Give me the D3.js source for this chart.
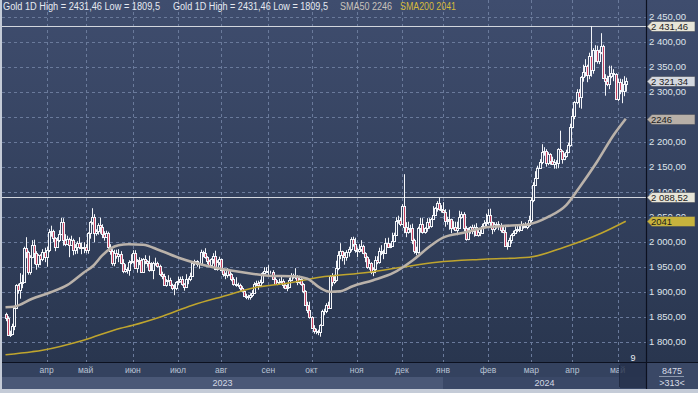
<!DOCTYPE html>
<html>
<head>
<meta charset="utf-8">
<script src="https://cdn.jsdelivr.net/npm/d3@7"></script>
<style>
  body { margin: 0; background: #c4cbd7; }
  svg { display: block; font-family: "Liberation Sans", Arial, sans-serif; }
</style>
</head>
<body>
<svg id="chart" width="698" height="393"></svg>
<script>
// barras diárias do ouro (mar/2023 .. mai/2024), índice = dia de pregão
var opens = [
  1856,1847,1814,1815,1831,1868,1913,1904,1918,1919,1988,1979,1940,1969,1993,1978,1956,1973,1965,1980,
  1969,1984,2020,2021,2008,1990,2004,2015,2040,2004,1995,2005,1994,2004,1983,1989,1997,1990,1988,
  1990,1983,2017,2039,2050,2017,2021,2034,2030,2015,2010,2017,1989,1982,1957,1978,1971,1975,1957,1941,1946,1943,1959,
  1962,1978,1948,1961,1963,1940,1965,1961,1957,1943,1943,1957,1958,1951,1936,1932,1913,1921,1923,1914,1907,1908,
  1919,1921,1925,1915,1910,1925,1925,1932,1957,1961,1955,1955,1979,1977,1969,1962,1954,1965,1972,1945,1959,
  1965,1944,1935,1933,1943,1936,1926,1915,1913,1914,1907,1901,1892,1889,1889,1894,1898,1915,1917,1914,1920,1937,1942,
  1940,1940,1939,1926,1916,1919,1919,1922,1913,1908,1910,1924,1934,1931,1930,1920,1925,1915,1901,1874,1864,
  1849,1828,1822,1821,1820,1833,1861,1861,1874,1868,1932,1920,1923,1947,1974,1981,1973,1970,1979,1985,2006,1996,
  1983,1982,1985,1992,1978,1969,1950,1958,1940,1946,1963,1959,1981,1980,1978,1998,1990,1992,2002,2014,2041,2044,
  2036,2072,2029,2019,2025,2028,2004,1981,1980,2027,2036,2019,2027,2040,2031,2045,2053,2067,2077,2065,
  2063,2059,2041,2043,2045,2028,2030,2024,2028,2049,2055,2028,2006,2023,2029,2022,2029,2013,2020,2018,2032,2037,
  2039,2054,2039,2025,2035,2035,2033,2024,2020,1992,1992,2004,2013,2017,2024,2025,2024,2035,2031,2030,2034,
  2044,2083,2114,2128,2148,2160,2179,2182,2158,2175,2162,2155,2160,2157,2186,2181,2166,2172,2179,2194,
  2230,2251,2280,2300,2290,2329,2339,2352,2333,2372,2344,2383,2383,2361,2379,2392,2327,2322,2316,2332,2337,2335,
  2286,2320,2303,2301,2315
];
var highs = [
  1858,1851,1822,1836,1871,1915,1916,1937,1934,1990,2009,1982,1973,2003,2004,1981,1975,1975,1985,1988,
  1990,2025,2032,2024,2009,2009,2023,2048,2047,2015,2012,2008,2012,2006,1995,2001,2009,1998,1999,
  1995,2019,2041,2067,2055,2025,2037,2048,2035,2021,2022,2020,1995,1985,1984,1984,1985,1981,1965,1955,1949,1963,1975,
  1983,1983,1965,1969,1967,1967,1973,1963,1972,1959,1960,1968,1960,1954,1940,1936,1925,1933,1928,1916,1915,1921,
  1930,1930,1931,1917,1935,1928,1938,1960,1964,1963,1958,1984,1982,1987,1971,1964,1967,1977,1982,1963,1970,
  1966,1947,1938,1947,1945,1937,1929,1929,1918,1916,1911,1904,1896,1894,1897,1903,1919,1922,1922,1924,1939,1949,1949,
  1953,1942,1943,1929,1923,1926,1930,1925,1915,1915,1928,1937,1936,1947,1933,1932,1927,1917,1903,1880,1880,
  1851,1833,1826,1824,1835,1864,1866,1877,1880,1933,1937,1934,1962,1981,1997,1982,1979,1983,1990,2009,2010,2008,
  1988,1995,2003,1994,1979,1971,1965,1959,1949,1971,1971,1988,1993,1984,2007,2008,1997,2018,2018,2049,2052,2048,
  2075,2135,2039,2040,2034,2036,2006,1990,2030,2048,2047,2029,2047,2047,2048,2071,2069,2081,2088.52,2073,
  2079,2065,2050,2064,2046,2041,2040,2040,2062,2060,2059,2031,2028,2031,2034,2034,2037,2025,2025,2036,2043,2056,
  2065,2066,2040,2039,2039,2041,2037,2031,2031,1999,2008,2016,2022,2031,2032,2035,2041,2037,2039,2037,2052,
  2088,2119,2141,2152,2165,2195,2189,2185,2179,2177,2170,2165,2163,2187,2222,2183,2177,2184,2198,2236,
  2266,2281,2305,2305,2331,2354,2365,2354,2378,2431.46,2387,2393,2392,2384,2417,2394,2335,2332,2352,2352,2345,2337,
  2326,2326,2325,2331,2328
];
var lows = [
  1841,1813,1809.5,1813,1823,1866,1896,1886,1907,1918,1967,1934,1934,1967,1955,1944,1949,1953,1961,1959,
  1950,1979,2010,1999,1981,1988,1999,2013,1992,1991,1994,1969,1992,1973,1975,1976,1985,1975,1977,
  1977,1976,2006,2034,1999,2012,2014,2016,2007,2002,2009,1985,1974,1952,1951,1966,1959,1955,1937,1938,1936,1932,1955,
  1956,1946,1938,1953,1938,1938,1955,1950,1940,1941,1925,1952,1948,1931,1925,1912,1910,1919,1911,1903,1893,1903,
  1913,1918,1912,1902,1908,1915,1921,1931,1952,1950,1946,1953,1969,1966,1955,1950,1953,1956,1943,1942,1953,
  1941,1930,1925,1928,1931,1921,1912,1910,1909,1902,1899,1890,1885,1884,1884,1889,1896,1911,1904,1913,1916,1936,1937,
  1931,1936,1924,1915,1913,1915,1915,1907,1905,1901,1907,1921,1926,1925,1913,1916,1912,1897,1872,1857,1846,
  1826,1816,1815,1813,1810,1832,1853,1857,1866,1867,1911,1915,1920,1943,1965,1961,1954,1962,1970,1980,1990,1978,
  1969,1978,1980,1975,1959,1946,1944,1935,1931,1937,1955,1956,1973,1965,1976,1990,1987,1990,2001,2012,2036,2031,
  2035,2017,2009,2016,2018,1995,1976,1973,1976,2018,2016,2016,2020,2026,2028,2044,2052,2060,2062,2058,
  2057,2030,2034,2024,2017,2024,2021,2013,2027,2046,2021,2002,2003,2016,2015,2010,2012,2010,2011,2016,2030,2031,
  2034,2031,2015,2020,2026,2023,2018,2017,1990,1984,1991,1996,2011,2015,2019,2019,2022,2026,2027,2025,2030,
  2038,2079,2112,2126,2146,2155,2172,2150,2153,2154,2154,2146,2146,2147,2179,2156,2163,2168,2177,2190,
  2228,2245,2275,2268,2266,2320,2330,2319,2325,2330,2336,2359,2356,2355,2375,2326,2292,2311,2305,2327,2321,2285,
  2281,2295,2277,2291,2300
];
var closes = [
  1847,1814,1815,1831,1868,1913,1904,1918,1919,1988,1979,1940,1969,1993,1978,1956,1973,1965,1980,1969,
  1984,2020,2021,2008,1990,2004,2015,2040,2004,1995,2005,1994,2004,1983,1989,1997,1990,1988,1990,
  1983,2017,2039,2050,2017,2021,2034,2030,2015,2010,2017,1989,1982,1957,1978,1971,1975,1957,1941,1946,1943,1959,1962,
  1978,1948,1961,1963,1940,1965,1961,1957,1943,1943,1957,1958,1951,1936,1932,1913,1921,1923,1914,1907,1908,1919,
  1921,1925,1915,1910,1925,1925,1932,1957,1961,1955,1955,1979,1977,1969,1962,1954,1965,1972,1945,1959,1965,
  1944,1935,1933,1943,1936,1926,1915,1913,1914,1907,1901,1892,1889,1889,1894,1898,1915,1917,1914,1920,1937,1942,1940,
  1940,1939,1926,1916,1919,1919,1922,1913,1908,1910,1924,1934,1931,1930,1920,1925,1915,1901,1874,1864,1849,
  1828,1822,1821,1820,1833,1861,1861,1874,1868,1932,1920,1923,1947,1974,1981,1973,1970,1979,1985,2006,1996,1983,
  1982,1985,1992,1978,1969,1950,1958,1940,1946,1963,1959,1981,1980,1978,1998,1990,1992,2002,2014,2041,2044,2036,
  2072,2029,2019,2025,2028,2004,1981,1980,2027,2036,2019,2027,2040,2031,2045,2053,2067,2077,2065,2063,
  2059,2041,2043,2045,2028,2030,2024,2028,2049,2055,2028,2006,2023,2029,2022,2029,2013,2020,2018,2032,2037,2039,
  2054,2039,2025,2035,2035,2033,2024,2020,1992,1992,2004,2013,2017,2024,2025,2024,2035,2031,2030,2034,2044,
  2083,2114,2128,2148,2160,2179,2182,2158,2175,2162,2155,2160,2157,2186,2181,2166,2172,2179,2194,2230,
  2251,2280,2300,2290,2329,2339,2352,2333,2372,2344,2383,2383,2361,2379,2392,2327,2322,2316,2332,2337,2335,2286,
  2320,2303,2301,2315,2321.34
];

// médias móveis: [índice da barra, valor]
var sma50 = [[0,1869],[4,1870],[13,1886],[22,1899],[30,1913],[38,1938],[43,1953],[47,1972],[51,1986],[55,1993],
  [60,1995],[67,1994],[75,1983],[85,1967],[100,1950],[109,1943],[120,1936],[128,1932],[140,1931],[147,1926],
  [153,1908],[158,1900],[163,1901],[169,1911],[179,1923],[189,1938],[198,1962],[207,1992],[213,2008],[223,2018],
  [233,2028],[241,2031],[255,2035],[264,2049],[273,2073],[280,2112],[288,2160],[296,2213],[302,2246]];
var sma200 = [[0,1774],[13,1780],[18,1783],[38,1803],[56,1827],[62,1833],[75,1849],[91,1873],[108,1893],[120,1907],
  [137,1917],[153,1929],[177,1939],[193,1949],[210,1959],[233,1965],[255,1969],[272,1989],[290,2017],[302,2041]];

// linhas horizontais (máxima do período e nível de dezembro)
var levels = [2431.46, 2088.52];
var priceTicks = [1800, 1850, 1900, 1950, 2000, 2050, 2100, 2150, 2200, 2250, 2300, 2350, 2400, 2450];
var monthStart = [20, 39, 62, 84, 105, 128, 149, 171, 193, 213, 235, 256, 276, 298];
var monthLabels = ["апр", "май", "июн", "июл", "авг", "сен", "окт", "ноя", "дек", "янв", "фев", "мар", "апр", "май"];
var yearLabels = ["2023", "2024"];
var yearStart = [-2, 213];
var totalBars = 8475;
var visibleBars = 313;
var cursorDay = "9";

var W = 698, H = 393;
var pl = 2, pr = 646, pt = 0, pb = 362, axisBottom = 389;

var svg = d3.select("#chart");
var defs = svg.append("defs");
var grad = defs.append("linearGradient").attr("id", "bg")
  .attr("gradientUnits", "userSpaceOnUse")
  .attr("x1", 0).attr("y1", 0).attr("x2", 0).attr("y2", pb);
grad.append("stop").attr("offset", "0%").attr("stop-color", "#3f4d6e");
grad.append("stop").attr("offset", "100%").attr("stop-color", "#29364f");
defs.append("clipPath").attr("id", "clip").append("rect")
  .attr("x", pl).attr("y", pt).attr("width", pr - pl).attr("height", pb - pt);

// fundo
svg.append("rect").attr("width", W).attr("height", H).attr("fill", "#c4cbd7");
svg.append("rect").attr("x", pl).attr("y", 0).attr("width", W - pl).attr("height", pb).attr("fill", "url(#bg)");

// escalas
var x = d3.scaleLinear().domain([0, closes.length - 1]).range([5.5, 625.8]);
var y = d3.scaleLinear().domain([1800, 2450]).range([341.7, 16.7]);

var plot = svg.append("g").attr("clip-path", "url(#clip)");

// grade tracejada
plot.selectAll("line.hgrid").data(priceTicks).enter().append("line")
  .attr("class", "hgrid")
  .attr("x1", pl).attr("x2", pr)
  .attr("y1", function (d) { return Math.round(y(d)) + 0.5; })
  .attr("y2", function (d) { return Math.round(y(d)) + 0.5; })
  .attr("stroke", "#6a7a9b").attr("stroke-dasharray", "3,3");
plot.selectAll("line.vgrid").data(monthStart).enter().append("line")
  .attr("class", "vgrid")
  .attr("x1", function (d) { return Math.round(x(d)) + 0.5; })
  .attr("x2", function (d) { return Math.round(x(d)) + 0.5; })
  .attr("y1", pt).attr("y2", pb)
  .attr("stroke", "#6a7a9b").attr("stroke-dasharray", "3,3");

// níveis
plot.selectAll("line.level").data(levels).enter().append("line")
  .attr("class", "level")
  .attr("x1", pl).attr("x2", pr)
  .attr("y1", function (d) { return Math.round(y(d)) + 0.5; })
  .attr("y2", function (d) { return Math.round(y(d)) + 0.5; })
  .attr("stroke", "#d3d7de");

// velas
var idx = d3.range(closes.length);
var cg = plot.append("g");
cg.selectAll("line").data(idx).enter().append("line")
  .attr("x1", function (i) { return Math.round(x(i)) + 0.5; })
  .attr("x2", function (i) { return Math.round(x(i)) + 0.5; })
  .attr("y1", function (i) { return y(highs[i]); })
  .attr("y2", function (i) { return y(lows[i]); })
  .attr("stroke", "#f3f5f9");
cg.selectAll("rect").data(idx).enter().append("rect")
  .attr("x", function (i) { return Math.round(x(i)) - 0.5; })
  .attr("y", function (i) { return Math.round(y(Math.max(opens[i], closes[i]))) + 0.5; })
  .attr("width", 2)
  .attr("height", function (i) {
    return Math.max(0, Math.round(y(Math.min(opens[i], closes[i]))) - Math.round(y(Math.max(opens[i], closes[i]))));
  })
  .attr("fill", function (i) { return closes[i] < opens[i] ? "#c4405f" : "url(#bg)"; })
  .attr("stroke", "#f3f5f9");

// médias móveis
var line = d3.line()
  .x(function (d) { return x(d[0]); })
  .y(function (d) { return y(d[1]); })
  .curve(d3.curveMonotoneX);
plot.append("path").attr("d", line(sma200)).attr("fill", "none")
  .attr("stroke", "#bfa52e").attr("stroke-width", 1.6);
plot.append("path").attr("d", line(sma50)).attr("fill", "none")
  .attr("stroke", "#bab2aa").attr("stroke-width", 2.6);

// cabeçalho
var fmtNum = function (v) { return String(v).replace(".", ","); };
var head = "Gold 1D High = " + fmtNum(d3.max(highs)) + " Low = " + fmtNum(d3.min(lows));
var headers = [
  { t: head, x: 3, len: 157, c: "#e6eaf1" },
  { t: head, x: 173, len: 155, c: "#e6eaf1" },
  { t: "SMA50 " + sma50[sma50.length - 1][1], x: 340, len: 52, c: "#c9c2ba" },
  { t: "SMA200 " + sma200[sma200.length - 1][1], x: 400, len: 56, c: "#d6bb3c" }
];
svg.selectAll("text.head").data(headers).enter().append("text")
  .attr("class", "head")
  .attr("x", function (d) { return d.x; }).attr("y", 10)
  .attr("textLength", function (d) { return d.len; })
  .attr("lengthAdjust", "spacingAndGlyphs")
  .attr("font-size", "10px")
  .attr("fill", function (d) { return d.c; })
  .text(function (d) { return d.t; });

// rótulos de valor
var ru = d3.formatLocale({ decimal: ",", thousands: "\u00a0", grouping: [3], currency: ["", ""] });
var fmtPrice = ru.format(",.2f");
var markers = [
  { v: levels[0], t: fmtPrice(levels[0]), fill: "#e7e5d8" },
  { v: closes[closes.length - 1], t: fmtPrice(closes[closes.length - 1]), fill: "#d4d8df" },
  { v: sma50[sma50.length - 1][1], t: String(sma50[sma50.length - 1][1]), fill: "#b8b0a8" },
  { v: levels[1], t: fmtPrice(levels[1]), fill: "#e7e5d8" },
  { v: sma200[sma200.length - 1][1], t: String(sma200[sma200.length - 1][1]), fill: "#c7b33d" }
];

// eixo de preços à direita (o rótulo que fica todo sob um marcador não aparece)
var shownTicks = priceTicks.filter(function (d) {
  return !markers.some(function (m) { return Math.abs(y(m.v) - y(d)) < 3; });
});
svg.selectAll("text.ytick").data(shownTicks).enter().append("text")
  .attr("class", "ytick")
  .attr("x", 649).attr("y", function (d) { return y(d); })
  .attr("dy", "0.35em")
  .attr("font-size", "9.5px")
  .attr("fill", "#dfe4ec")
  .text(function (d) { return fmtPrice(d); });

var mk = svg.selectAll("g.marker").data(markers).enter().append("g").attr("class", "marker");
mk.append("path")
  .attr("d", function (d) {
    var c = Math.round(y(d.v)) + 0.5;
    return "M647," + c + "L652," + (c - 5) + "L695," + (c - 5) + "L695," + (c + 5) + "L652," + (c + 5) + "Z";
  })
  .attr("fill", function (d) { return d.fill; })
  .attr("stroke", "#4a4f5a").attr("stroke-width", 0.6);
mk.append("text")
  .attr("x", 651).attr("y", function (d) { return Math.round(y(d.v)) + 0.5; })
  .attr("dy", "0.35em")
  .attr("font-size", "9.5px")
  .attr("fill", "#1c1c1c")
  .text(function (d) { return d.t; });

// eixo do tempo
svg.append("rect").attr("x", pl).attr("y", pb).attr("width", W - pl).attr("height", axisBottom - pb).attr("fill", "#34425f");
svg.append("rect").attr("x", pl).attr("y", 377).attr("width", Math.round(x(yearStart[1])) - pl).attr("height", axisBottom - 377).attr("fill", "#4a5877");
svg.append("rect").attr("x", Math.round(x(yearStart[1]))).attr("y", 377).attr("width", pr - Math.round(x(yearStart[1]))).attr("height", axisBottom - 377).attr("fill", "#3a4867");
svg.append("rect").attr("x", pr).attr("y", pb).attr("width", W - pr).attr("height", axisBottom - pb).attr("fill", "#3a4866");

svg.selectAll("text.month").data(monthLabels).enter().append("text")
  .attr("class", "month")
  .attr("x", function (d, i) { return x(monthStart[i]); })
  .attr("y", 370).attr("dy", "0.35em")
  .attr("text-anchor", "middle")
  .attr("font-size", "8.5px")
  .attr("fill", "#b9c2d3")
  .text(function (d) { return d; });

var yearCenters = [(pl + x(yearStart[1])) / 2, (x(yearStart[1]) + pr) / 2];
svg.selectAll("text.year").data(yearLabels).enter().append("text")
  .attr("class", "year")
  .attr("x", function (d, i) { return yearCenters[i]; })
  .attr("y", 383).attr("dy", "0.35em")
  .attr("text-anchor", "middle")
  .attr("font-size", "9px")
  .attr("fill", "#d3d9e4")
  .text(function (d) { return d; });

// marcador do cursor
svg.append("rect").attr("x", 620).attr("y", pb).attr("width", pr - 620).attr("height", axisBottom - pb - 1)
  .attr("fill", "#26314b").attr("opacity", 0.8);
svg.append("line").attr("x1", 619.5).attr("x2", 619.5).attr("y1", 365).attr("y2", 387).attr("stroke", "#222c44");
svg.append("text").attr("x", 633).attr("y", 361)
  .attr("text-anchor", "middle").attr("font-size", "9px").attr("fill", "#e8ecf2").text(cursorDay);

// contador de barras
svg.append("text").attr("x", 672).attr("y", 370.5).attr("dy", "0.35em")
  .attr("text-anchor", "middle").attr("font-size", "9px").attr("fill", "#d8dde8").text(totalBars);
svg.append("line").attr("x1", 659).attr("x2", 684).attr("y1", 376.5).attr("y2", 376.5).attr("stroke", "#8c97ab");
svg.append("text").attr("x", 672).attr("y", 382.5).attr("dy", "0.35em")
  .attr("text-anchor", "middle").attr("font-size", "9px").attr("fill", "#d8dde8").text(">" + visibleBars + "<");

// separadores
svg.append("line").attr("x1", pr + 0.5).attr("x2", pr + 0.5).attr("y1", 0).attr("y2", axisBottom).attr("stroke", "#0c1120").attr("stroke-width", 1.2);
svg.append("line").attr("x1", pl).attr("x2", W).attr("y1", pb + 0.5).attr("y2", pb + 0.5).attr("stroke", "#0c1120").attr("stroke-width", 1.2);
</script>
</body>
</html>
